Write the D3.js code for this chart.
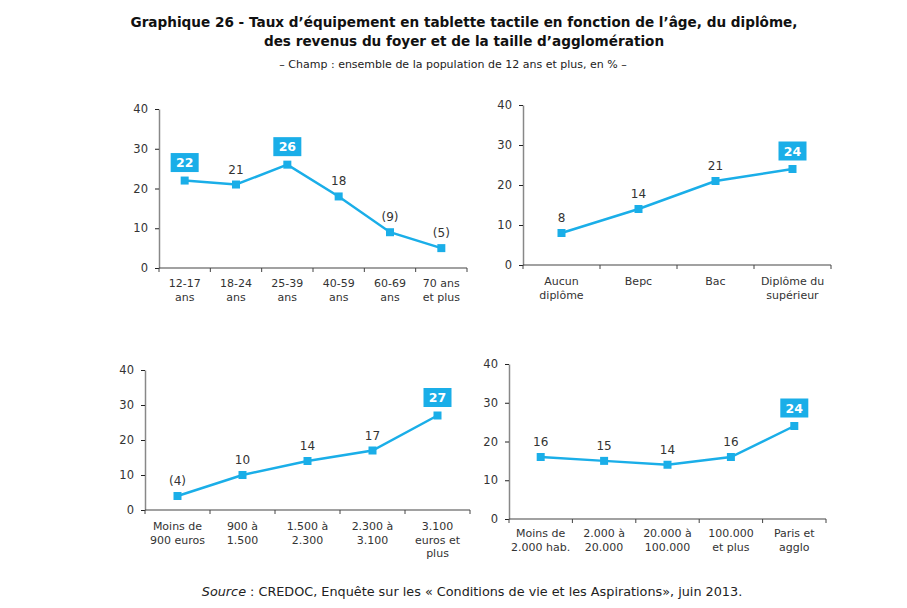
<!DOCTYPE html>
<html>
<head>
<meta charset="utf-8">
<style>
  body { margin: 0; background: #fff; }
  svg { display: block; }
</style>
</head>
<body>
<svg width="907" height="608"></svg>
<script src="https://cdnjs.cloudflare.com/ajax/libs/d3/7.8.5/d3.min.js"></script>
<script>
// data
var ageCats = [["12-17", "ans"], ["18-24", "ans"], ["25-39", "ans"], ["40-59", "ans"], ["60-69", "ans"], ["70 ans", "et plus"]];
var ageVals = [22, 21, 26, 18, 9, 5];
var ageLabels = ["22", "21", "26", "18", "(9)", "(5)"];
var ageHigh = [true, false, true, false, false, false];

var dipCats = [["Aucun", "diplôme"], ["Bepc"], ["Bac"], ["Diplôme du", "supérieur"]];
var dipVals = [8, 14, 21, 24];
var dipLabels = ["8", "14", "21", "24"];
var dipHigh = [false, false, false, true];

var revCats = [["Moins de", "900 euros"], ["900 à", "1.500"], ["1.500 à", "2.300"], ["2.300 à", "3.100"], ["3.100", "euros et", "plus"]];
var revVals = [4, 10, 14, 17, 27];
var revLabels = ["(4)", "10", "14", "17", "27"];
var revHigh = [false, false, false, false, true];

var aggCats = [["Moins de", "2.000 hab."], ["2.000 à", "20.000"], ["20.000 à", "100.000"], ["100.000", "et plus"], ["Paris et", "agglo"]];
var aggVals = [16, 15, 14, 16, 24];
var aggLabels = ["16", "15", "14", "16", "24"];
var aggHigh = [false, false, false, false, true];

var yTicks = [0, 10, 20, 30, 40];

var blue = "#1aaee8";
var font = "DejaVu Sans, Verdana, sans-serif";

var svg = d3.select("svg");

// titles
svg.append("text").attr("x", 464).attr("y", 27).attr("text-anchor", "middle")
  .style("font", "bold 13.6px " + font)
  .attr("fill", "#111").text("Graphique 26 - Taux d’équipement en tablette tactile en fonction de l’âge, du diplôme,");
svg.append("text").attr("x", 464).attr("y", 46).attr("text-anchor", "middle")
  .style("font", "bold 13.6px " + font)
  .attr("fill", "#111").text("des revenus du foyer et de la taille d’agglomération");
svg.append("text").attr("x", 453).attr("y", 68).attr("text-anchor", "middle")
  .style("font", "11px " + font)
  .attr("fill", "#222").text("– Champ : ensemble de la population de 12 ans et plus, en % –");

var src = svg.append("text").attr("x", 472).attr("y", 596).attr("text-anchor", "middle")
  .style("font", "12.8px " + font)
  .attr("fill", "#222");
src.append("tspan").style("font-style", "italic").text("Source");
src.append("tspan").text(" : CREDOC, Enquête sur les « Conditions de vie et les Aspirations», juin 2013.");

function panel(cats, vals, labels, high, box, lab0) {
  var x = d3.scaleBand().domain(d3.range(cats.length)).range([box.x0, box.x1]);
  var y = d3.scaleLinear().domain([0, 40]).range([box.y0, box.y40]);
  var g = svg.append("g");

  var ya = g.append("g").attr("transform", "translate(" + box.x0 + ",0)")
    .call(d3.axisLeft(y).tickValues(yTicks).tickSize(4).tickPadding(7).tickSizeOuter(0));
  ya.select(".domain").attr("stroke", "#888").attr("stroke-width", 1.5);
  ya.selectAll(".tick line").attr("stroke", "#222");
  ya.selectAll("text").style("font", "11.5px " + font).attr("fill", "#333");

  // x axis: line + ticks at band boundaries
  g.append("line").attr("x1", box.x0).attr("x2", box.x1).attr("y1", box.y0).attr("y2", box.y0)
    .attr("stroke", "#444").attr("stroke-width", 1.2);
  var bounds = d3.range(cats.length + 1).map(function(i) { return i < cats.length ? x(i) : box.x1; });
  g.selectAll(".xt").data(bounds).enter().append("line")
    .attr("x1", function(d) { return d; }).attr("x2", function(d) { return d; })
    .attr("y1", box.y0).attr("y2", box.y0 + 4).attr("stroke", "#444");

  var cl = g.selectAll(".cat").data(cats).enter().append("text")
    .attr("text-anchor", "middle").style("font", "11px " + font).attr("fill", "#333");
  cl.each(function(d, i) {
    var t = d3.select(this);
    d.forEach(function(s, j) {
      t.append("tspan").attr("x", x(i) + x.bandwidth() / 2).attr("y", box.y0 + lab0 + j * 13.5).text(s);
    });
  });

  var cx = function(d, i) { return x(i) + x.bandwidth() / 2; };
  var line = d3.line().x(cx).y(function(d) { return y(d); });
  g.append("path").datum(vals).attr("d", line).attr("fill", "none")
    .attr("stroke", blue).attr("stroke-width", 2.5);
  g.selectAll(".pt").data(vals).enter().append("rect")
    .attr("x", function(d, i) { return cx(d, i) - 4; }).attr("y", function(d) { return y(d) - 4; })
    .attr("width", 8).attr("height", 8).attr("fill", blue);

  vals.forEach(function(v, i) {
    var px = cx(v, i), py = y(v);
    if (high[i]) {
      g.append("rect").attr("x", px - 14).attr("y", py - 27.5).attr("width", 28).attr("height", 19).attr("fill", blue);
      g.append("text").attr("x", px).attr("y", py - 13.5).attr("text-anchor", "middle")
        .style("font", "bold 12.5px " + font).attr("fill", "#fff").text(labels[i]);
    } else {
      g.append("text").attr("x", px).attr("y", py - 11).attr("text-anchor", "middle")
        .style("font", "12px " + font).attr("fill", "#333").text(labels[i]);
    }
  });
}

panel(ageCats, ageVals, ageLabels, ageHigh, {x0: 159, x1: 467, y40: 109, y0: 268}, 19);
panel(dipCats, dipVals, dipLabels, dipHigh, {x0: 523, x1: 831, y40: 105, y0: 265}, 20);
panel(revCats, revVals, revLabels, revHigh, {x0: 145, x1: 470, y40: 370, y0: 510}, 20);
panel(aggCats, aggVals, aggLabels, aggHigh, {x0: 509, x1: 826, y40: 364, y0: 519}, 18);
</script>
</body>
</html>
